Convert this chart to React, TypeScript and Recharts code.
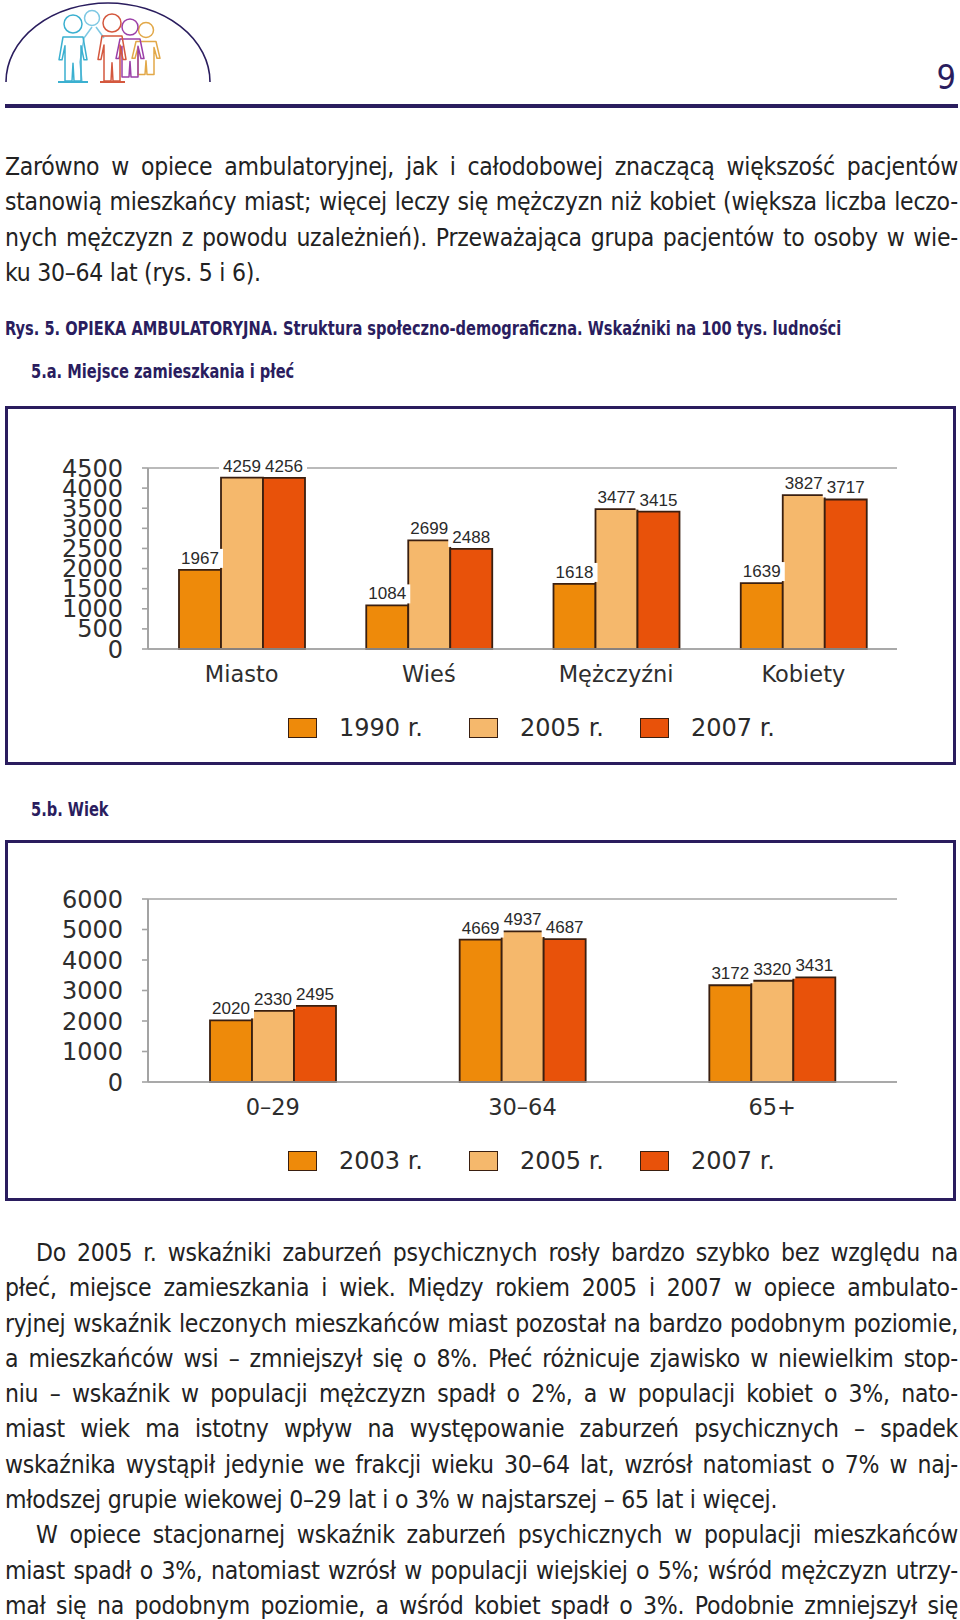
import React from 'react';
import { BarChart, Bar, XAxis, YAxis, CartesianGrid, LabelList } from 'recharts';

// ---------- DATA ----------
const categories1 = ['Miasto', 'Wieś', 'Mężczyźni', 'Kobiety'];
const values1990 = [1967, 1084, 1618, 1639];
const values2005a = [4259, 2699, 3477, 3827];
const values2007a = [4256, 2488, 3415, 3717];
const ticks1 = [0, 500, 1000, 1500, 2000, 2500, 3000, 3500, 4000, 4500];
const legend1 = ['1990 r.', '2005 r.', '2007 r.'];

const categories2 = ['0–29', '30–64', '65+'];
const values2003 = [2020, 4669, 3172];
const values2005b = [2330, 4937, 3320];
const values2007b = [2495, 4687, 3431];
const ticks2 = [0, 1000, 2000, 3000, 4000, 5000, 6000];
const legend2 = ['2003 r.', '2005 r.', '2007 r.'];

const para1 = [
  'Zarówno w opiece ambulatoryjnej, jak i całodobowej znaczącą większość pacjentów',
  'stanowią mieszkańcy miast; więcej leczy się mężczyzn niż kobiet (większa liczba leczo-',
  'nych mężczyzn z powodu uzależnień). Przeważająca grupa pacjentów to osoby w wie-',
  'ku 30–64 lat (rys. 5 i 6).',
];
const para2 = [
  'Do 2005 r. wskaźniki zaburzeń psychicznych rosły bardzo szybko bez względu na',
  'płeć, miejsce zamieszkania i wiek. Między rokiem 2005 i 2007 w opiece ambulato-',
  'ryjnej wskaźnik leczonych mieszkańców miast pozostał na bardzo podobnym poziomie,',
  'a mieszkańców wsi – zmniejszył się o 8%. Płeć różnicuje zjawisko w niewielkim stop-',
  'niu – wskaźnik w populacji mężczyzn spadł o 2%, a w populacji kobiet o 3%, nato-',
  'miast wiek ma istotny wpływ na występowanie zaburzeń psychicznych – spadek',
  'wskaźnika wystąpił jedynie we frakcji wieku 30–64 lat, wzrósł natomiast o 7% w naj-',
  'młodszej grupie wiekowej 0–29 lat i o 3% w najstarszej – 65 lat i więcej.',
];
const para3 = [
  'W opiece stacjonarnej wskaźnik zaburzeń psychicznych w populacji mieszkańców',
  'miast spadł o 3%, natomiast wzrósł w populacji wiejskiej o 5%; wśród mężczyzn utrzy-',
  'mał się na podobnym poziomie, a wśród kobiet spadł o 3%. Podobnie zmniejszył się',
];

const data1 = categories1.map((c, i) => ({ cat: c, a: values1990[i], b: values2005a[i], c: values2007a[i] }));
const data2 = categories2.map((c, i) => ({ cat: c, a: values2003[i], b: values2005b[i], c: values2007b[i] }));

// ---------- STYLE ----------
const COLORS = ['#EE8A0A', '#F5B86C', '#E8520A'];
const BAR_STROKE = '#3a1f10';
const GRID = '#a3a3a3';
const NAVY = '#2a1d5e';
const TEXT = '#222222';
const NARROW = "'Liberation Sans Narrow', 'Arial Narrow', 'DejaVu Sans Condensed', sans-serif";
const CHART_FONT = "'DejaVu Sans', sans-serif";
const LEGEND_X = [288, 469, 640];

const renderValueLabel = (props: any) => {
  const vb = props.viewBox || {};
  const x = Number(props.x ?? vb.x);
  const y = Number(props.y ?? vb.y);
  const w = Number(props.width ?? vb.width);
  const cx = x + w / 2;
  const base = y - 6;
  return (
    <g>
      <rect x={cx - 23} y={base - 15} width={46} height={19} fill="#ffffff" />
      <text x={cx} y={base} textAnchor="middle" fontFamily="'Liberation Sans', sans-serif" fontSize={17} fill="#2a2a2a">
        {props.value}
      </text>
    </g>
  );
};

const Legend = ({ labels, top }: { labels: string[]; top: number }) => (
  <>
    {labels.map((l, i) => (
      <div key={l} style={{ position: 'absolute', left: LEGEND_X[i], top, display: 'flex', alignItems: 'center' }}>
        <div style={{ width: 29, height: 20, boxSizing: 'border-box', background: COLORS[i], border: `1.5px solid ${BAR_STROKE}`, marginRight: 22 }} />
        <span style={{ fontFamily: CHART_FONT, fontSize: 24, color: '#2b2b2b', lineHeight: '20px', whiteSpace: 'nowrap' }}>{l}</span>
      </div>
    ))}
  </>
);

const Chart = ({ data, ticks, max, marginTop, marginBottom }: any) => (
  <BarChart
    width={960}
    height={300}
    data={data}
    margin={{ top: marginTop, right: 63, left: 8, bottom: marginBottom }}
    barGap={0}
    barSize={42}
  >
    <CartesianGrid vertical={false} stroke={GRID} strokeWidth={1.6} />
    <XAxis
      dataKey="cat"
      height={40}
      axisLine={{ stroke: GRID, strokeWidth: 1.6 }}
      tickLine={false}
      tickSize={0}
      tickMargin={17}
      tick={{ fontFamily: CHART_FONT, fontSize: 22.5, fill: '#2e2e2e' }}
    />
    <YAxis
      yAxisId="left"
      width={140}
      domain={[0, max]}
      ticks={ticks}
      interval={0}
      axisLine={{ stroke: GRID, strokeWidth: 2 }}
      tickLine={{ stroke: GRID, strokeWidth: 1.6 }}
      tickSize={6}
      tickMargin={19}
      tick={{ fontFamily: CHART_FONT, fontSize: 24, fill: '#2e2e2e' }}
    />
    <YAxis
      yAxisId="right"
      orientation="right"
      width={0}
      domain={[0, max]}
      ticks={ticks}
      tick={false}
      tickLine={false}
      axisLine={{ stroke: GRID, strokeWidth: 2 }}
    />
    {['a', 'b', 'c'].map((k, i) => (
      <Bar key={k} yAxisId="left" dataKey={k} fill={COLORS[i]} stroke={BAR_STROKE} strokeWidth={1.8} isAnimationActive={false}>
        <LabelList dataKey={k} content={renderValueLabel} />
      </Bar>
    ))}
  </BarChart>
);

const Line = ({ text, justify, indent }: { text: string; justify: boolean; indent?: number }) => (
  <div
    style={{
      height: 35.3,
      lineHeight: '35.3px',
      textAlign: justify ? 'justify' : 'left',
      textAlignLast: justify ? 'justify' : 'left',
      paddingLeft: indent || 0,
      whiteSpace: 'nowrap',
      overflow: 'visible',
    } as any}
  >
    {text}
  </div>
);

const Heading = ({ text, left, top }: { text: string; left: number; top: number }) => (
  <div
    style={{
      position: 'absolute',
      left,
      top,
      fontFamily: NARROW,
      fontWeight: 700,
      fontSize: 19,
      color: NAVY,
      whiteSpace: 'nowrap',
      transform: 'scaleX(0.855)',
      transformOrigin: 'left top',
    }}
  >
    {text}
  </div>
);

const Logo = () => {
  const fig = (cx: number, hy: number, r: number, h: number, col: string) => {
    const y0 = hy + r + 1;
    const d = `M ${cx - 10} ${y0 + 3} L ${cx + 10} ${y0 + 3} L ${cx + 14} ${y0 + h * 0.55} L ${cx + 11} ${y0 + h * 0.55} L ${cx + 8} ${y0 + h * 0.25} L ${cx + 8} ${y0 + h} L ${cx + 1} ${y0 + h} L ${cx} ${y0 + h * 0.62} L ${cx - 1} ${y0 + h} L ${cx - 8} ${y0 + h} L ${cx - 8} ${y0 + h * 0.25} L ${cx - 11} ${y0 + h * 0.55} L ${cx - 14} ${y0 + h * 0.55} Z`;
    return (
      <g stroke={col} strokeWidth={1.5} fill="none" strokeLinejoin="round">
        <circle cx={cx} cy={hy} r={r} />
        <path d={d} />
      </g>
    );
  };
  return (
    <svg width={220} height={95} style={{ position: 'absolute', left: 0, top: 0 }}>
      <path d="M 6 82 A 102 79 0 0 1 210 82" fill="none" stroke={NAVY} strokeWidth={1.6} />
      {fig(146, 30, 7.5, 36, '#E2A848')}
      {fig(130, 27, 8, 41, '#9B3FA8')}
      <path d="M 92 27 L 84 38 L 80 62 L 82 82 M 96 27 L 104 38" stroke="#7EC8E3" strokeWidth={1.5} fill="none" />
      <circle cx={92} cy={18} r={7.5} stroke="#7EC8E3" strokeWidth={1.5} fill="none" />
      {fig(112, 23, 9, 48, '#D4583E')}
      {fig(73, 24, 9, 47, '#3BB0D0')}
      <path d="M 58 82 L 88 82" stroke="#3BB0D0" strokeWidth={2} />
      <path d="M 100 82 L 125 82" stroke="#D4583E" strokeWidth={2} />
    </svg>
  );
};

const bodyStyle: React.CSSProperties = {
  position: 'absolute',
  left: 5,
  width: 953,
  fontFamily: NARROW,
  fontSize: 24.5,
  letterSpacing: '-0.25px',
  color: TEXT,
};

export default function App() {
  return (
    <div style={{ position: 'absolute', left: 0, top: 0, width: 960, height: 1620, overflow: 'hidden', background: '#fff' }}>
      <Logo />
      <div style={{ position: 'absolute', right: 4, top: 57, fontFamily: NARROW, fontSize: 34, color: NAVY }}>9</div>
      <div style={{ position: 'absolute', left: 5, top: 104, width: 953, height: 4, background: NAVY }} />

      <div style={{ ...bodyStyle, top: 149 }}>
        {para1.map((t, i) => (
          <Line key={i} text={t} justify={i < para1.length - 1} />
        ))}
      </div>

      <Heading left={5} top={317} text="Rys. 5. OPIEKA AMBULATORYJNA. Struktura społeczno-demograficzna. Wskaźniki na 100 tys. ludności" />
      <Heading left={31} top={360} text="5.a. Miejsce zamieszkania i płeć" />

      <div style={{ position: 'absolute', left: 5, top: 406, width: 951, height: 359, boxSizing: 'border-box', border: `3px solid ${NAVY}` }} />
      <div style={{ position: 'absolute', left: 0, top: 400 }}>
        <Chart data={data1} ticks={ticks1} max={4500} marginTop={68} marginBottom={11} />
      </div>
      <Legend labels={legend1} top={718} />

      <Heading left={31} top={798} text="5.b. Wiek" />

      <div style={{ position: 'absolute', left: 5, top: 840, width: 951, height: 361, boxSizing: 'border-box', border: `3px solid ${NAVY}` }} />
      <div style={{ position: 'absolute', left: 0, top: 840 }}>
        <Chart data={data2} ticks={ticks2} max={6000} marginTop={59} marginBottom={18} />
      </div>
      <Legend labels={legend2} top={1151} />

      <div style={{ ...bodyStyle, top: 1235 }}>
        {para2.map((t, i) => (
          <Line key={'a' + i} text={t} justify={i < para2.length - 1} indent={i === 0 ? 31 : 0} />
        ))}
        {para3.map((t, i) => (
          <Line key={'b' + i} text={t} justify={true} indent={i === 0 ? 31 : 0} />
        ))}
      </div>
    </div>
  );
}
